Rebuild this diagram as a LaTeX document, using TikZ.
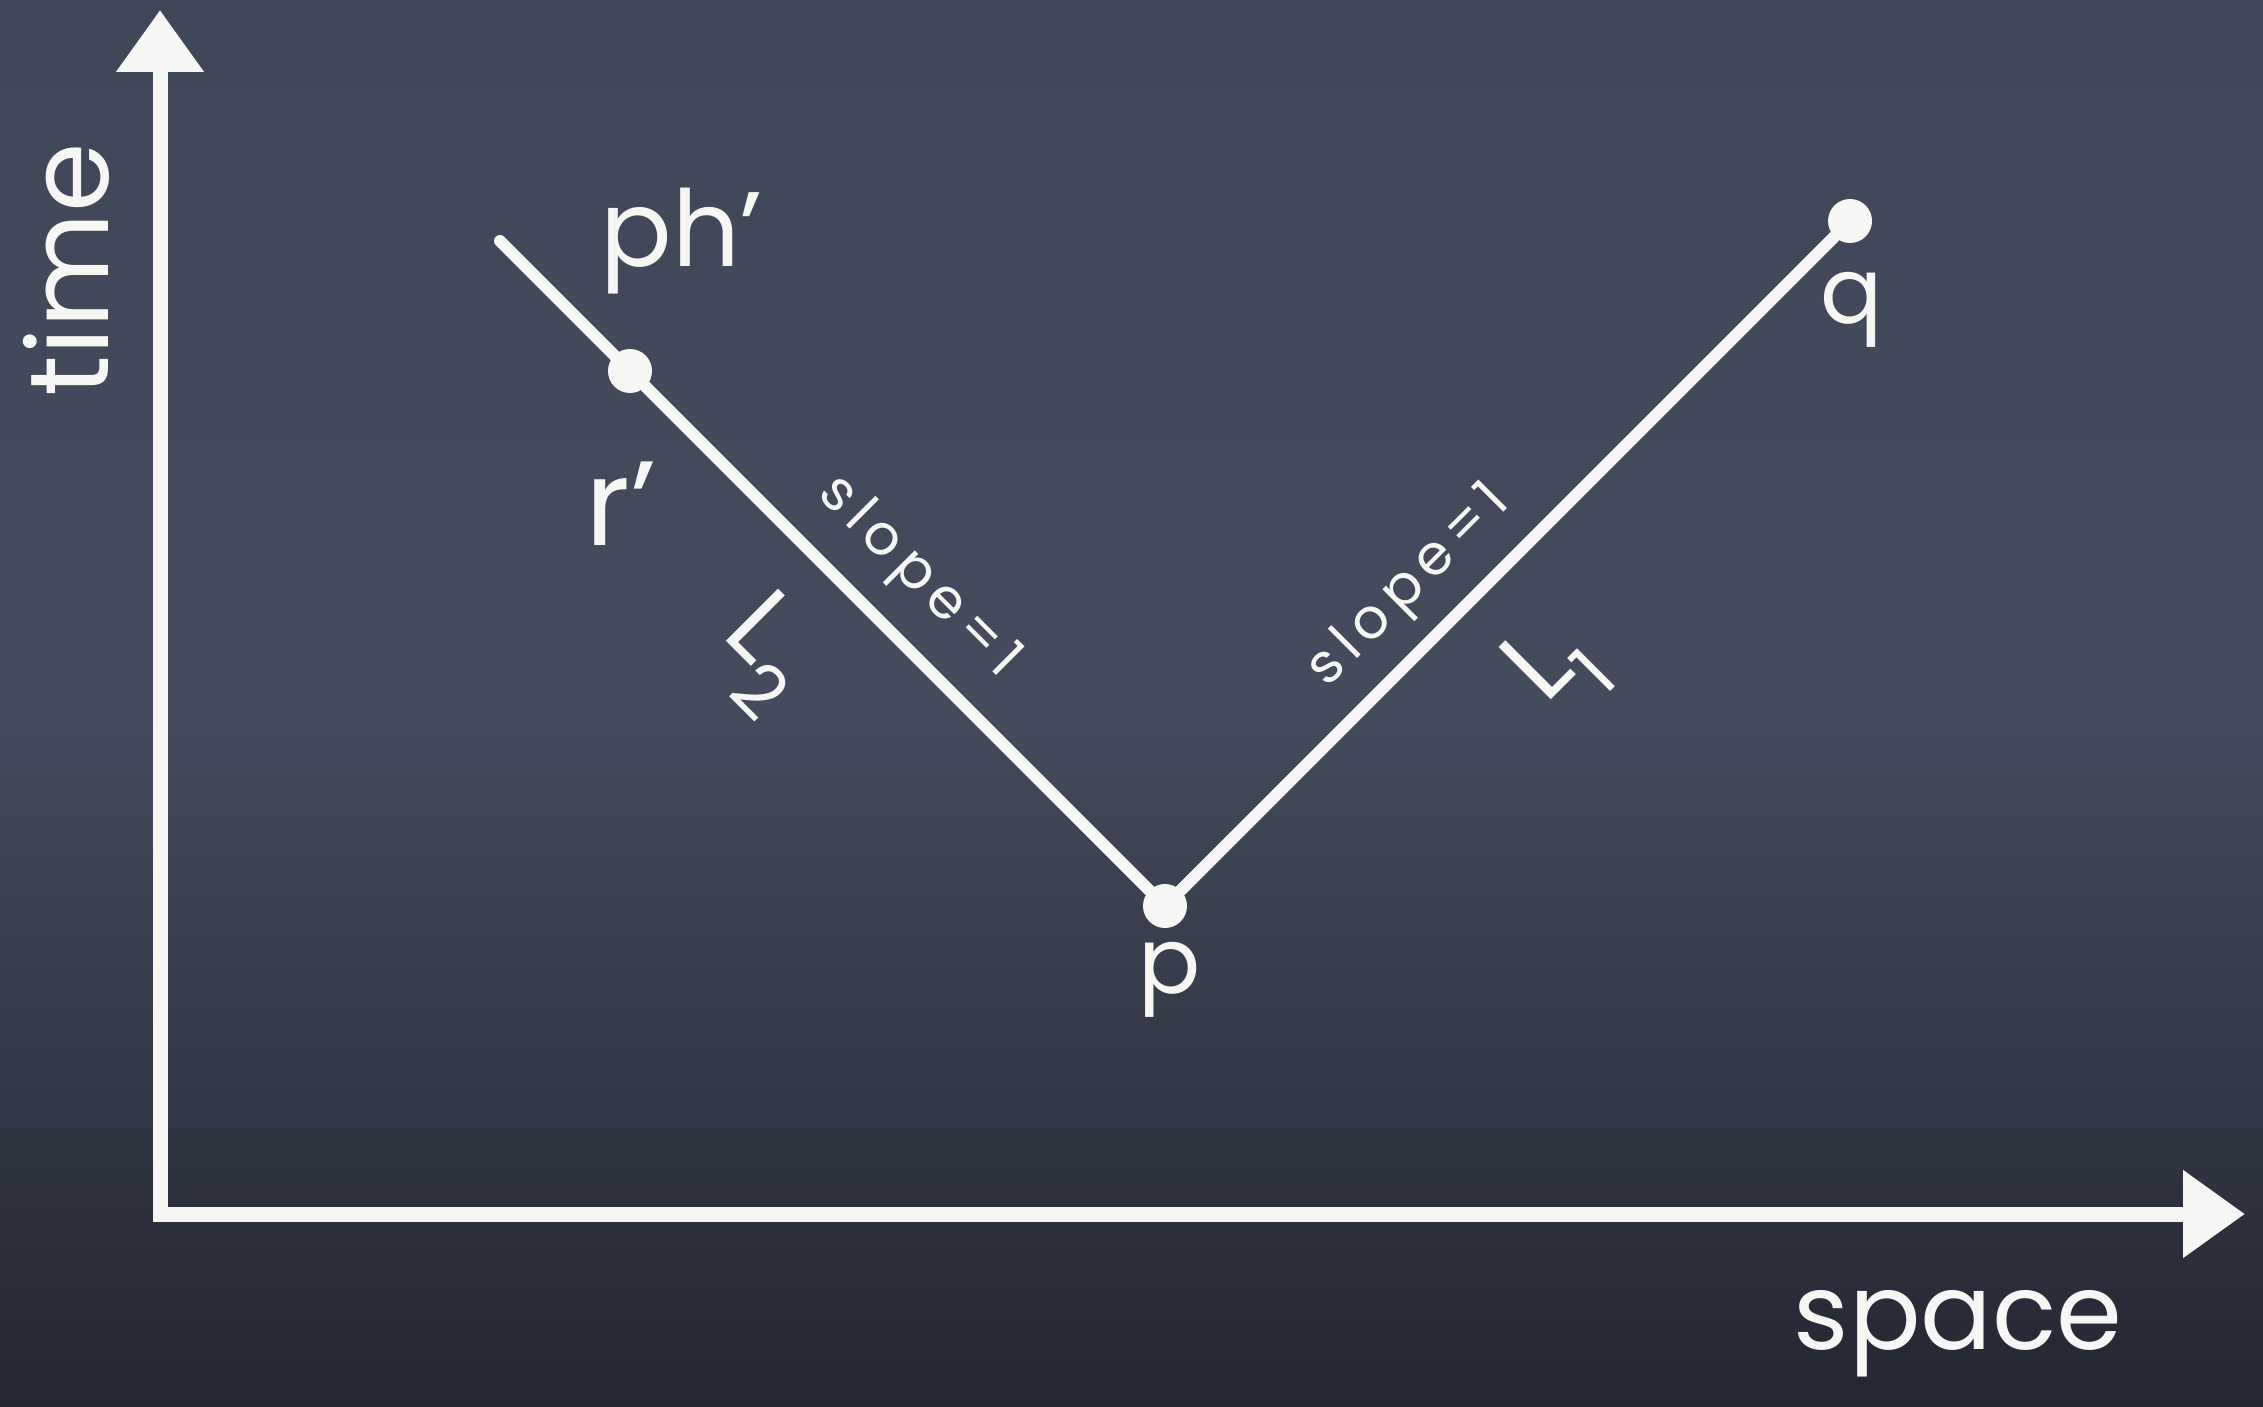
\documentclass[tikz,border=0pt]{standalone}
\usepackage{fontspec}
\setmainfont{Poppins}
\newfontfamily\chalkwide[LetterSpace=15]{Poppins}
\usetikzlibrary{arrows.meta}
\definecolor{boardtop}{RGB}{64,71,88}
\definecolor{boardmid}{RGB}{68,75,92}
\definecolor{boardbot}{RGB}{36,39,50}
\definecolor{chalk}{RGB}{246,246,244}
\tikzset{
  axisline/.style={draw=chalk, line width=7.5pt, line join=miter,
    {Triangle[length=31pt,width=42pt]}-{Triangle[length=31pt,width=42pt]}},
  worldline/.style={draw=chalk, line width=6pt, line cap=round},
  event/.style={circle, fill=chalk, minimum size=22pt, inner sep=0pt},
  biglabel/.style={text=chalk, inner sep=0pt, font=\fontsize{46}{50}\selectfont},
  hugelabel/.style={text=chalk, inner sep=0pt, font=\fontsize{53}{58}\selectfont},
  slopelabel/.style={text=chalk, inner sep=0pt, font=\chalkwide\fontsize{28}{30}\selectfont},
}
\begin{document}
\begin{tikzpicture}[x={(0.5pt,0)}, y={(0,-0.5pt)}]
\fill[top color=boardtop, bottom color=boardbot, middle color=boardmid] (0,0) rectangle (2263,1407);
\useasboundingbox (0,0) rectangle (2263,1407);
% axes
\coordinate (O) at (160,1214);
\coordinate (ytip) at (160,10);
\coordinate (xtip) at (2245,1214);
\draw[axisline] (ytip) -- (O) -- (xtip);
% world lines
\coordinate (start) at (500,241);
\node[event] (r) at (630,371) {};
\node[event] (p) at (1165,906) {};
\node[event] (q) at (1850,221) {};
\draw[worldline] (start) -- (r.center) -- (p.center) -- (q.center);
% labels
\node[biglabel, anchor=base] (plab) at (1170,993) {p};
\node[biglabel, anchor=base] (qlab) at (1852,323) {q};
\node[hugelabel, anchor=base west] (phlab) at (600,266) {ph’};
\node[hugelabel, anchor=base west, font=\fontsize{60}{64}\selectfont] (rlab) at (585,545) {r’};
\node[hugelabel, anchor=base, rotate=90, font=\fontsize{56}{60}\selectfont] (timelab) at (108,270) {time};
\node[hugelabel, anchor=base] (spacelab) at (1958,1349) {space};
\node[slopelabel, rotate=-45] (slopeL) at (918,578) {slope=1};
\node[slopelabel, rotate=45] (slopeR) at (1410,587) {slope=1};
\node[hugelabel, rotate=-45] (Ltwo) at (765,654) {L\textsubscript{2}};
\node[hugelabel, rotate=45] (Lone) at (1557,667) {L\textsubscript{1}};
\end{tikzpicture}
\end{document}
